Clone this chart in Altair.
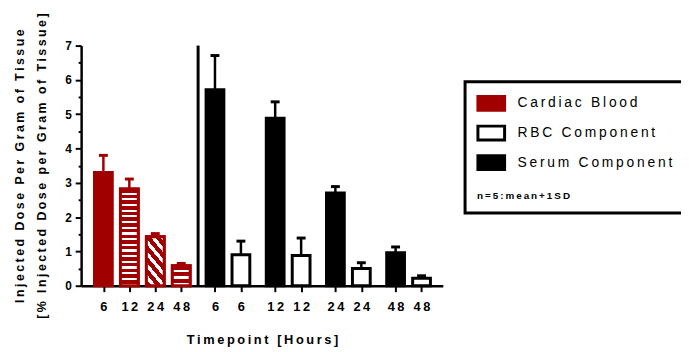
import altair as alt
import pandas as pd

# ---------------- data ----------------
series_names = ["Cardiac Blood", "RBC Component", "Serum Component"]
cardiac_hours = ["6", "12", "24", "48"]
cardiac_mean = [3.30, 2.82, 1.43, 0.58]
cardiac_sd = [0.50, 0.29, 0.09, 0.07]
pair_hours = ["6", "12", "24", "48"]
serum_mean = [5.71, 4.88, 2.70, 0.96]
serum_sd = [1.00, 0.48, 0.19, 0.17]
rbc_mean = [0.90, 0.88, 0.50, 0.22]
rbc_sd = [0.40, 0.51, 0.17, 0.07]
note_text = "n=5:mean+1SD"
x_title = "Timepoint [Hours]"
y_title = ["Injected Dose Per Gram of Tissue", "[% Injected Dose per Gram of Tissue]"]

# ---------------- style / layout ----------------
TS = "\u2009"  # thin space used as letter spacing


def spaced(s):
    return TS.join(list(s))


RED = "#A00000"
FONT = "Liberation Sans"
PAIR_START = 4.3
PAIR_STEP = 2.32

rows = []
for i, h in enumerate(cardiac_hours):
    rows.append(dict(series=series_names[0], hour=h, mean=cardiac_mean[i], sd=cardiac_sd[i],
                     pos=float(i), pat=i))
for j, h in enumerate(pair_hours):
    p = round(PAIR_START + PAIR_STEP * j, 4)
    rows.append(dict(series=series_names[2], hour=h, mean=serum_mean[j], sd=serum_sd[j], pos=p, pat=-1))
    rows.append(dict(series=series_names[1], hour=h, mean=rbc_mean[j], sd=rbc_sd[j], pos=round(p + 1, 4), pat=-1))
df = pd.DataFrame(rows)
df["top"] = df["mean"] + df["sd"]
df["label"] = df["series"].map(spaced)
df = df.sort_values("pos").reset_index(drop=True)

divider_pos = (len(cardiac_hours) - 1 + PAIR_START) / 2
div_df = pd.DataFrame({"pos": [divider_pos], "y0": [0.0], "y1": [7.0]})

tick_vals = list(df["pos"])
tick_labels = [spaced(h) for h in df["hour"]]
label_expr = "[" + ",".join("'" + t + "'" for t in tick_labels) + "][indexof([" + \
    ",".join(repr(v) for v in tick_vals) + "], datum.value)]"

x_scale = alt.Scale(domain=[-0.667, 12.89], nice=False, zero=False)
y_scale = alt.Scale(domain=[0, 7], nice=False)

legend_domain = [spaced(s) for s in series_names]
fill_scale = alt.Scale(domain=legend_domain, range=[RED, "white", "black"])
stroke_scale = alt.Scale(domain=legend_domain, range=[RED, "black", "black"])

legend = alt.Legend(
    title=spaced(note_text), titleOrient="bottom", titleAnchor="start",
    titleFont=FONT, titleFontSize=10, titleFontWeight="bold", titleColor="black", titlePadding=16,
    orient="none", legendX=388.5, legendY=36.5, direction="vertical",
    symbolType="M-1.588,-0.824H1.588V0.824H-1.588Z", symbolSize=289, symbolStrokeWidth=3,
    symbolOffset=4.5,
    labelFont=FONT, labelFontSize=14, labelColor="black", labelOffset=16.5,
    padding=12, rowPadding=2, strokeColor="black", fillColor="white",
)

x_enc = alt.X("pos:Q", scale=x_scale, title=spaced(x_title),
              axis=alt.Axis(values=tick_vals, tickCount=40, labelExpr=label_expr, grid=False,
                            domainColor="black", domainWidth=2.5, tickColor="black", tickWidth=2,
                            tickSize=6, labelFont=FONT, labelFontSize=13, labelFontWeight="bold",
                            labelColor="black", labelPadding=9, labelFlush=False, labelOverlap=False,
                            titleFont=FONT, titleFontSize=13, titleFontWeight="bold",
                            titleColor="black", titlePadding=20))
y_enc = alt.Y("mean:Q", scale=y_scale, title=[spaced(t) for t in y_title],
              axis=alt.Axis(values=[k / 2 for k in range(15)], tickCount=40,
                            labelExpr="datum.value % 1 ? '' : format(datum.value, 'd')", grid=False,
                            labelOverlap=False, labelFlush=False,
                            domainColor="black", domainWidth=2.5, tickColor="black", tickWidth=2,
                            tickSize={"condition": {"test": "datum.value % 1 !== 0", "value": 3}, "value": 6},
                            labelFont=FONT, labelFontSize=12, labelFontWeight="bold",
                            labelColor="black", labelPadding=4,
                            titleFont=FONT, titleFontSize=12.5, titleFontWeight="bold",
                            titleColor="black", titlePadding=16, titleLineHeight=23))

base = alt.Chart(df)

bars = base.mark_bar(size=18, strokeWidth=3).encode(
    x=x_enc, y=y_enc,
    fill=alt.Fill("label:N", scale=fill_scale, legend=legend),
    stroke=alt.Stroke("label:N", scale=stroke_scale, legend=legend),
)


def stripe_stops(n, white_frac):
    stops = []
    for k in range(n):
        s = k / n
        m = s + (1 - white_frac) / n
        e = (k + 1) / n
        stops += [{"offset": round(s, 4), "color": RED}, {"offset": round(m, 4), "color": RED},
                  {"offset": round(m, 4), "color": "white"}, {"offset": round(e, 4), "color": "white"}]
    return stops


patterns = {
    1: {"gradient": "linear", "x1": 0, "y1": 0, "x2": 0, "y2": 1, "stops": stripe_stops(17, 0.38)},
    2: {"gradient": "linear", "x1": 0, "y1": 1, "x2": 0.53, "y2": -0.21, "stops": stripe_stops(6, 0.45)},
    3: {"gradient": "linear", "x1": 0, "y1": 0, "x2": 0, "y2": 1, "stops": stripe_stops(3, 0.4)},
}

pattern_layers = []
for idx, grad in patterns.items():
    pattern_layers.append(
        base.transform_filter(alt.datum.pat == idx).mark_bar(
            size=18, strokeWidth=3, fill=grad, stroke=RED
        ).encode(x="pos:Q", y="mean:Q")
    )

err = base.mark_rule(strokeWidth=2.5).encode(
    x="pos:Q", y="mean:Q", y2="top:Q",
    stroke=alt.Stroke("label:N", scale=stroke_scale, legend=legend),
)
caps = base.mark_rule(strokeWidth=3, xOffset=-4.5, x2Offset=4.5).encode(
    x="pos:Q", x2="pos:Q", y="top:Q",
    stroke=alt.Stroke("label:N", scale=stroke_scale, legend=legend),
)

divider = alt.Chart(div_df).mark_rule(strokeWidth=3, color="black").encode(
    x="pos:Q", y="y0:Q", y2="y1:Q"
)

chart = alt.layer(err, caps, bars, *pattern_layers, divider).properties(
    width=366, height=243,
    autosize=alt.AutoSizeParams(type="none"),
    padding={"left": 74, "top": 36, "right": 241, "bottom": 63},
    background="white",
).configure_view(stroke=None).configure_legend(strokeWidth=3)

chart.save("out.html", embed_options={"renderer": "svg", "actions": False})
